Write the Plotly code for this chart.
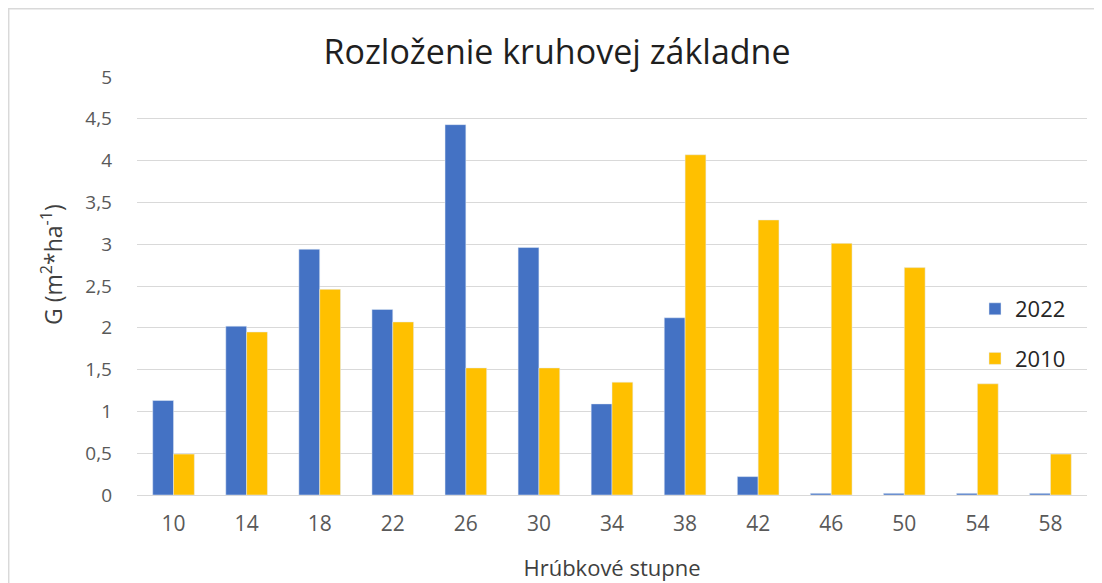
import plotly.graph_objects as go

categories = ["10", "14", "18", "22", "26", "30", "34", "38", "42", "46", "50", "54", "58"]
values_2022 = [1.13, 2.02, 2.94, 2.22, 4.43, 2.96, 1.09, 2.12, 0.22, 0.02, 0.02, 0.02, 0.02]
values_2010 = [0.49, 1.95, 2.46, 2.07, 1.52, 1.52, 1.35, 4.07, 3.29, 3.01, 2.72, 1.33, 0.49]
y_title = "G (m<sup>2</sup>*ha<sup>-1</sup>)"

# page body has an 8px margin, so figure coordinates = window coordinates - 8
W, H = 1094, 575
L, R, T, B = 129, 15, 69, 88
pw = W - L - R
ph = H - T - B

fig = go.Figure()
fig.add_trace(go.Bar(x=categories, y=values_2022, name="2022", marker_color="#4472C4",
                     legendgroup="a"))
fig.add_trace(go.Bar(x=categories, y=values_2010, name="2010", marker_color="#FFC000",
                     legendgroup="b"))

font_family = "Open Sans, Liberation Sans, sans-serif"

fig.update_layout(
    width=W, height=H,
    margin=dict(l=L, r=R, t=T, b=B, autoexpand=False),
    paper_bgcolor="white", plot_bgcolor="white",
    separators=", ",
    barmode="group", bargap=0.43, bargroupgap=0,
    font=dict(family=font_family, color="#595959"),
    title=dict(text="Rozloženie kruhovej základne", x=549 / W, xanchor="center",
               y=1 - 44 / H, yanchor="middle",
               font=dict(size=34, color="#1f1f1f", family=font_family)),
    legend=dict(x=(967 - L) / pw, xanchor="left", y=(H - B - 280) / ph, yanchor="top",
                font=dict(size=22, color="#262626"), tracegroupgap=18,
                traceorder="grouped", bgcolor="rgba(0,0,0,0)"),
    showlegend=True,
)
fig.update_xaxes(type="category", showgrid=False, showline=False, ticks="",
                 ticklabelstandoff=14, automargin=False,
                 tickfont=dict(size=21, color="#595959"),
                 title=dict(text="Hrúbkové stupne", font=dict(size=22, color="#404040"), standoff=24))
fig.update_yaxes(range=[0, 5], dtick=0.5, showgrid=True, gridcolor="#d9d9d9", gridwidth=1.3,
                 zeroline=True, zerolinecolor="#d9d9d9", zerolinewidth=1.3,
                 showline=False, ticks="", ticklabelstandoff=24, automargin=False,
                 tickfont=dict(size=19, color="#595959"))

fig.add_annotation(text=y_title, textangle=-90, showarrow=False,
                   xref="paper", yref="paper",
                   x=(44 - L) / pw, y=(H - B - 257) / ph,
                   xanchor="center", yanchor="middle",
                   font=dict(size=23, color="#404040", family=font_family))

fig.add_shape(type="line", xref="paper", yref="paper",
              x0=(0.7 - L) / pw, x1=(0.7 - L) / pw,
              y0=-B / ph, y1=1 + T / ph,
              line=dict(color="#d9d9d9", width=1.5), layer="below")
fig.add_shape(type="line", xref="paper", yref="paper",
              x0=-L / pw, x1=(W - L) / pw,
              y0=1 + (T - 0.7) / ph, y1=1 + (T - 0.7) / ph,
              line=dict(color="#d9d9d9", width=1.5), layer="below")

fig.write_html("out.html")
